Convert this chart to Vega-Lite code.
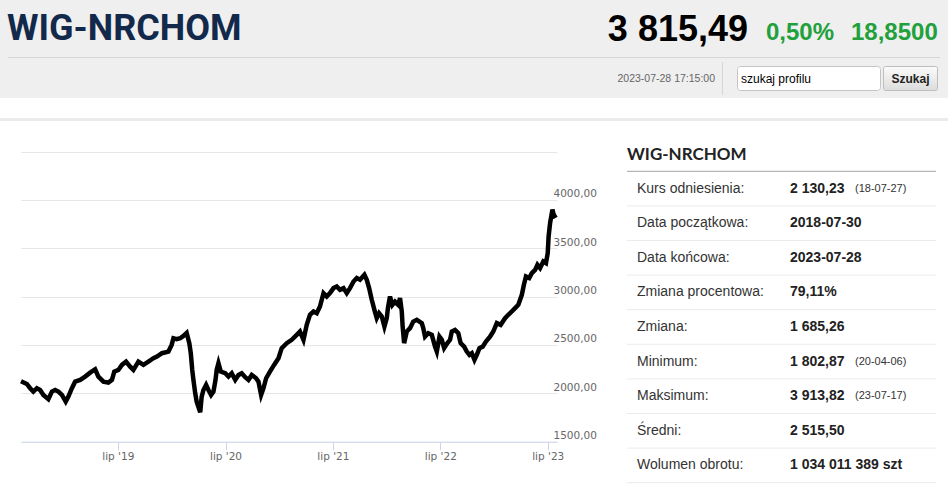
{
  "$schema": "https://vega.github.io/schema/vega-lite/v6.json",
  "description": "WIG-NRCHOM quote page: index chart 2018-2023 with summary table",
  "padding": 0,
  "background": "white",
  "bounds": "flush",
  "spacing": 20,
  "config": {
    "view": {"stroke": null},
    "font": "Liberation Sans"
  },
  "datasets": {
    "header": [
      {"item": "name", "text": "WIG-NRCHOM"},
      {"item": "price", "text": "3 815,49"},
      {"item": "pct", "text": "0,50%"},
      {"item": "change", "text": "18,8500"},
      {"item": "time", "text": "2023-07-28 17:15:00"},
      {"item": "search", "text": "szukaj profilu"},
      {"item": "button", "text": "Szukaj"}
    ],
    "prices": [
      {"date": "2018-08-06", "close": 2125}, {"date": "2018-08-26", "close": 2097},
      {"date": "2018-09-06", "close": 2053}, {"date": "2018-09-17", "close": 2018},
      {"date": "2018-09-29", "close": 2053}, {"date": "2018-10-10", "close": 2035},
      {"date": "2018-10-21", "close": 1983}, {"date": "2018-11-07", "close": 1939},
      {"date": "2018-11-19", "close": 2018}, {"date": "2018-11-30", "close": 2035},
      {"date": "2018-12-11", "close": 2018}, {"date": "2018-12-23", "close": 1983},
      {"date": "2019-01-05", "close": 1914}, {"date": "2019-01-14", "close": 1966},
      {"date": "2019-01-26", "close": 2053}, {"date": "2019-02-06", "close": 2121},
      {"date": "2019-02-23", "close": 2139}, {"date": "2019-03-12", "close": 2173},
      {"date": "2019-03-29", "close": 2214}, {"date": "2019-04-15", "close": 2249},
      {"date": "2019-04-26", "close": 2173}, {"date": "2019-05-13", "close": 2121},
      {"date": "2019-05-30", "close": 2111}, {"date": "2019-06-11", "close": 2139},
      {"date": "2019-06-19", "close": 2225}, {"date": "2019-07-03", "close": 2242},
      {"date": "2019-07-15", "close": 2294}, {"date": "2019-07-29", "close": 2328},
      {"date": "2019-08-12", "close": 2276}, {"date": "2019-08-23", "close": 2242},
      {"date": "2019-09-09", "close": 2328}, {"date": "2019-09-26", "close": 2294},
      {"date": "2019-10-13", "close": 2328}, {"date": "2019-10-30", "close": 2363},
      {"date": "2019-11-11", "close": 2380}, {"date": "2019-11-28", "close": 2415},
      {"date": "2019-12-20", "close": 2432}, {"date": "2019-12-31", "close": 2501},
      {"date": "2020-01-06", "close": 2570}, {"date": "2020-01-17", "close": 2560},
      {"date": "2020-01-29", "close": 2570}, {"date": "2020-02-09", "close": 2594},
      {"date": "2020-02-20", "close": 2625}, {"date": "2020-02-29", "close": 2519},
      {"date": "2020-03-05", "close": 2415}, {"date": "2020-03-10", "close": 2242},
      {"date": "2020-03-14", "close": 2139}, {"date": "2020-03-20", "close": 2001},
      {"date": "2020-03-25", "close": 1914}, {"date": "2020-04-06", "close": 1803},
      {"date": "2020-04-11", "close": 1966}, {"date": "2020-04-17", "close": 2035},
      {"date": "2020-04-26", "close": 2087}, {"date": "2020-05-04", "close": 2035},
      {"date": "2020-05-13", "close": 1983}, {"date": "2020-05-21", "close": 2018},
      {"date": "2020-05-28", "close": 2139}, {"date": "2020-06-01", "close": 2242},
      {"date": "2020-06-07", "close": 2312}, {"date": "2020-06-15", "close": 2225},
      {"date": "2020-06-30", "close": 2208}, {"date": "2020-07-11", "close": 2173},
      {"date": "2020-07-22", "close": 2208}, {"date": "2020-08-03", "close": 2139},
      {"date": "2020-08-14", "close": 2190}, {"date": "2020-08-25", "close": 2208},
      {"date": "2020-09-06", "close": 2167}, {"date": "2020-09-17", "close": 2139},
      {"date": "2020-09-28", "close": 2190}, {"date": "2020-10-13", "close": 2156},
      {"date": "2020-10-21", "close": 2121}, {"date": "2020-10-30", "close": 1983},
      {"date": "2020-11-07", "close": 2053}, {"date": "2020-11-16", "close": 2156},
      {"date": "2020-11-29", "close": 2225}, {"date": "2020-12-13", "close": 2294},
      {"date": "2020-12-28", "close": 2363}, {"date": "2021-01-08", "close": 2467},
      {"date": "2021-01-25", "close": 2519}, {"date": "2021-02-11", "close": 2553},
      {"date": "2021-02-28", "close": 2605}, {"date": "2021-03-11", "close": 2639},
      {"date": "2021-03-23", "close": 2553}, {"date": "2021-04-03", "close": 2708},
      {"date": "2021-04-14", "close": 2812}, {"date": "2021-04-26", "close": 2846},
      {"date": "2021-05-07", "close": 2829}, {"date": "2021-05-18", "close": 2898},
      {"date": "2021-05-30", "close": 3036}, {"date": "2021-06-10", "close": 3001},
      {"date": "2021-06-21", "close": 3036}, {"date": "2021-07-03", "close": 3088},
      {"date": "2021-07-14", "close": 3105}, {"date": "2021-07-25", "close": 3070},
      {"date": "2021-08-06", "close": 3088}, {"date": "2021-08-17", "close": 3036},
      {"date": "2021-08-28", "close": 3088}, {"date": "2021-09-09", "close": 3156},
      {"date": "2021-09-20", "close": 3192}, {"date": "2021-10-01", "close": 3174},
      {"date": "2021-10-16", "close": 3226}, {"date": "2021-10-24", "close": 3174},
      {"date": "2021-11-01", "close": 3088}, {"date": "2021-11-10", "close": 2967},
      {"date": "2021-11-19", "close": 2863}, {"date": "2021-11-27", "close": 2777},
      {"date": "2021-12-05", "close": 2829}, {"date": "2021-12-14", "close": 2794},
      {"date": "2021-12-23", "close": 2690}, {"date": "2021-12-31", "close": 2777},
      {"date": "2022-01-04", "close": 2884}, {"date": "2022-01-11", "close": 3001},
      {"date": "2022-01-19", "close": 2915}, {"date": "2022-01-28", "close": 2949},
      {"date": "2022-02-08", "close": 2915}, {"date": "2022-02-14", "close": 2984},
      {"date": "2022-02-20", "close": 2846}, {"date": "2022-02-23", "close": 2690},
      {"date": "2022-02-28", "close": 2519}, {"date": "2022-03-09", "close": 2639},
      {"date": "2022-03-20", "close": 2674}, {"date": "2022-03-31", "close": 2742},
      {"date": "2022-04-12", "close": 2760}, {"date": "2022-04-29", "close": 2726},
      {"date": "2022-05-04", "close": 2674}, {"date": "2022-05-10", "close": 2587},
      {"date": "2022-05-21", "close": 2622}, {"date": "2022-06-02", "close": 2605},
      {"date": "2022-06-13", "close": 2483}, {"date": "2022-06-19", "close": 2432},
      {"date": "2022-06-28", "close": 2587}, {"date": "2022-07-06", "close": 2553},
      {"date": "2022-07-14", "close": 2467}, {"date": "2022-07-25", "close": 2519},
      {"date": "2022-08-03", "close": 2553}, {"date": "2022-08-09", "close": 2639},
      {"date": "2022-08-20", "close": 2656}, {"date": "2022-08-31", "close": 2622},
      {"date": "2022-09-08", "close": 2519}, {"date": "2022-09-20", "close": 2483},
      {"date": "2022-09-29", "close": 2432}, {"date": "2022-10-08", "close": 2398},
      {"date": "2022-10-16", "close": 2415}, {"date": "2022-10-25", "close": 2346},
      {"date": "2022-11-02", "close": 2398}, {"date": "2022-11-11", "close": 2467},
      {"date": "2022-11-22", "close": 2483}, {"date": "2022-12-03", "close": 2535},
      {"date": "2022-12-17", "close": 2587}, {"date": "2022-12-28", "close": 2639},
      {"date": "2023-01-09", "close": 2726}, {"date": "2023-01-22", "close": 2708},
      {"date": "2023-02-06", "close": 2777}, {"date": "2023-02-17", "close": 2812},
      {"date": "2023-03-01", "close": 2846}, {"date": "2023-03-12", "close": 2881},
      {"date": "2023-03-23", "close": 2915}, {"date": "2023-04-04", "close": 3019},
      {"date": "2023-04-11", "close": 3122}, {"date": "2023-04-18", "close": 3208},
      {"date": "2023-04-29", "close": 3192}, {"date": "2023-05-08", "close": 3243},
      {"date": "2023-05-19", "close": 3277}, {"date": "2023-05-27", "close": 3329},
      {"date": "2023-06-05", "close": 3295}, {"date": "2023-06-16", "close": 3363},
      {"date": "2023-06-25", "close": 3347}, {"date": "2023-07-01", "close": 3450},
      {"date": "2023-07-04", "close": 3622}, {"date": "2023-07-09", "close": 3761},
      {"date": "2023-07-17", "close": 3900}, {"date": "2023-07-21", "close": 3850},
      {"date": "2023-07-28", "close": 3815}
    ],
    "stats": [
      {"row": 1, "label": "Kurs odniesienia:", "amount": "2 130,23", "note": "(18-07-27)"},
      {"row": 2, "label": "Data początkowa:", "amount": "2018-07-30", "note": ""},
      {"row": 3, "label": "Data końcowa:", "amount": "2023-07-28", "note": ""},
      {"row": 4, "label": "Zmiana procentowa:", "amount": "79,11%", "note": ""},
      {"row": 5, "label": "Zmiana:", "amount": "1 685,26", "note": ""},
      {"row": 6, "label": "Minimum:", "amount": "1 802,87", "note": "(20-04-06)"},
      {"row": 7, "label": "Maksimum:", "amount": "3 913,82", "note": "(23-07-17)"},
      {"row": 8, "label": "Średni:", "amount": "2 515,50", "note": ""},
      {"row": 9, "label": "Wolumen obrotu:", "amount": "1 034 011 389 szt", "note": ""}
    ]
  },
  "vconcat": [
    {
      "width": 948,
      "height": 98,
      "view": {"fill": "#efefef", "stroke": null},
      "data": {"name": "header"},
      "layer": [
        {
          "transform": [{"filter": "datum.item == 'name'"}],
          "mark": {"type": "rule", "color": "#d6d6d6", "strokeWidth": 1},
          "encoding": {"x": {"value": 8}, "x2": {"value": 940}, "y": {"value": 57.5}}
        },
        {
          "transform": [{"filter": "datum.item == 'time'"}],
          "mark": {"type": "rule", "color": "#d6d6d6", "strokeWidth": 1},
          "encoding": {"x": {"value": 722.5}, "y": {"value": 62}, "y2": {"value": 95}}
        },
        {
          "transform": [{"filter": "datum.item == 'search'"}],
          "mark": {"type": "rect", "fill": "white", "stroke": "#c4c4c4", "strokeWidth": 1, "cornerRadius": 3},
          "encoding": {"x": {"value": 737.5}, "x2": {"value": 880.5}, "y": {"value": 66.5}, "y2": {"value": 90.5}}
        },
        {
          "transform": [{"filter": "datum.item == 'button'"}],
          "mark": {
            "type": "rect", "stroke": "#bdbdbd", "strokeWidth": 1, "cornerRadius": 2,
            "fill": {"gradient": "linear", "x1": 0, "y1": 0, "x2": 0, "y2": 1,
              "stops": [{"offset": 0, "color": "#fbfbfb"}, {"offset": 1, "color": "#dcdcdc"}]}
          },
          "encoding": {"x": {"value": 883.5}, "x2": {"value": 937.5}, "y": {"value": 66.5}, "y2": {"value": 90.5}}
        },
        {
          "transform": [{"filter": "datum.item == 'name'"}],
          "mark": {"type": "text", "align": "left", "baseline": "alphabetic", "font": "Roboto", "fontSize": 36, "fontWeight": "bold", "color": "#13294b"},
          "encoding": {"x": {"value": 7}, "y": {"value": 40}, "text": {"field": "text"}}
        },
        {
          "transform": [{"filter": "datum.item == 'price'"}],
          "mark": {"type": "text", "align": "right", "baseline": "alphabetic", "fontSize": 36, "fontWeight": "bold", "color": "#000000"},
          "encoding": {"x": {"value": 748}, "y": {"value": 41}, "text": {"field": "text"}}
        },
        {
          "transform": [{"filter": "datum.item == 'pct'"}],
          "mark": {"type": "text", "align": "left", "baseline": "alphabetic", "fontSize": 24, "fontWeight": "bold", "color": "#21a03c"},
          "encoding": {"x": {"value": 766}, "y": {"value": 40}, "text": {"field": "text"}}
        },
        {
          "transform": [{"filter": "datum.item == 'change'"}],
          "mark": {"type": "text", "align": "left", "baseline": "alphabetic", "fontSize": 24, "fontWeight": "bold", "color": "#21a03c"},
          "encoding": {"x": {"value": 851}, "y": {"value": 40}, "text": {"field": "text"}}
        },
        {
          "transform": [{"filter": "datum.item == 'time'"}],
          "mark": {"type": "text", "align": "right", "baseline": "middle", "fontSize": 10.5, "color": "#666666"},
          "encoding": {"x": {"value": 715}, "y": {"value": 78.5}, "text": {"field": "text"}}
        },
        {
          "transform": [{"filter": "datum.item == 'search'"}],
          "mark": {"type": "text", "align": "left", "baseline": "middle", "fontSize": 12, "color": "#000000"},
          "encoding": {"x": {"value": 741}, "y": {"value": 78.5}, "text": {"field": "text"}}
        },
        {
          "transform": [{"filter": "datum.item == 'button'"}],
          "mark": {"type": "text", "align": "center", "baseline": "middle", "fontSize": 12, "fontWeight": "bold", "color": "#222222"},
          "encoding": {"x": {"value": 910.5}, "y": {"value": 78.5}, "text": {"field": "text"}}
        }
      ]
    },
    {
      "width": 948,
      "height": 3,
      "view": {"fill": "#ebebeb", "stroke": null},
      "data": {"values": []},
      "mark": "rect",
      "encoding": {}
    },
    {
      "bounds": "flush",
      "spacing": 20,
      "hconcat": [
        {
          "width": 1,
          "height": 1,
          "data": {"values": []},
          "mark": "rect",
          "encoding": {}
        },
        {
          "width": 536,
          "height": 300.7,
          "data": {"name": "prices"},
          "mark": {"type": "line", "color": "#000000", "strokeWidth": 4.5, "strokeJoin": "miter"},
          "encoding": {
            "x": {
              "field": "date", "type": "temporal",
              "scale": {
                "type": "utc",
                "domain": [{"year": 2018, "month": 8, "date": 6, "utc": true}, {"year": 2023, "month": 8, "date": 1, "hours": 12, "utc": true}]
              },
              "axis": {
                "title": null,
                "values": [
                  {"year": 2019, "month": 7, "date": 1, "utc": true},
                  {"year": 2020, "month": 7, "date": 1, "utc": true},
                  {"year": 2021, "month": 7, "date": 1, "utc": true},
                  {"year": 2022, "month": 7, "date": 1, "utc": true},
                  {"year": 2023, "month": 7, "date": 1, "utc": true}
                ],
                "labelExpr": "\"lip '\" + utcFormat(datum.value, '%y')",
                "grid": false,
                "domainColor": "#ccd6eb",
                "tickColor": "#ccd6eb",
                "tickSize": 8,
                "labelPadding": 2,
                "labelFont": "DejaVu Sans",
                "labelFontSize": 10.5,
                "labelColor": "#666666",
                "labelFlush": false
              }
            },
            "y": {
              "field": "close", "type": "quantitative",
              "scale": {"domain": [1500, 4609], "nice": false, "zero": false},
              "axis": {
                "title": null,
                "orient": "right",
                "values": [1500, 2000, 2500, 3000, 3500, 4000, 4500],
                "labelExpr": "datum.value >= 4500 ? '' : replace(format(datum.value, '.2f'), '.', ',')",
                "grid": true,
                "gridColor": "#e6e6e6",
                "domain": false,
                "ticks": false,
                "labelAlign": "left",
                "labelBaseline": "bottom",
                "labelPadding": -4,
                "labelOffset": -1,
                "labelFont": "DejaVu Sans",
                "labelFontSize": 10.5,
                "labelColor": "#666666"
              }
            }
          }
        },
        {
          "width": 30,
          "height": 1,
          "data": {"values": []},
          "mark": "rect",
          "encoding": {}
        },
        {
          "width": 309,
          "height": 342,
          "data": {"name": "stats"},
          "title": {
            "text": "WIG-NRCHOM", "anchor": "start", "frame": "group",
            "font": "Lato", "fontSize": 17, "fontWeight": "bold", "color": "#222222",
            "baseline": "alphabetic", "offset": -19.5, "dy": 16
          },
          "transform": [{"fold": ["label", "amount", "note"], "as": ["col", "text"]}],
          "layer": [
            {
              "transform": [{"filter": "datum.col == 'label'"}],
              "mark": {"type": "rule", "color": "#ebebeb", "strokeWidth": 1},
              "encoding": {
                "y": {"field": "row", "type": "ordinal", "bandPosition": 1,
                  "scale": {"type": "band", "range": [30.3, 341.7], "paddingInner": 0, "paddingOuter": 0},
                  "axis": null}
              }
            },
            {
              "transform": [{"filter": "datum.col == 'label' && datum.row == 1"}],
              "mark": {"type": "rule", "color": "#a6a6a6", "strokeWidth": 1},
              "encoding": {"y": {"field": "row", "type": "ordinal", "bandPosition": 0}}
            },
            {
              "transform": [{"filter": "datum.col == 'label'"}],
              "mark": {"type": "text", "align": "left", "baseline": "middle", "fontSize": 14, "color": "#333333"},
              "encoding": {
                "x": {"field": "col", "type": "nominal",
                  "scale": {"domain": ["label", "amount", "note"], "range": [10, 228], "padding": 0},
                  "axis": null},
                "y": {"field": "row", "type": "ordinal", "bandPosition": 0.5},
                "text": {"field": "text"}
              }
            },
            {
              "transform": [{"filter": "datum.col == 'amount'"}],
              "mark": {"type": "text", "align": "left", "baseline": "middle", "dx": 44, "fontSize": 14, "fontWeight": "bold", "color": "#222222"},
              "encoding": {
                "x": {"field": "col", "type": "nominal"},
                "y": {"field": "row", "type": "ordinal", "bandPosition": 0.5},
                "text": {"field": "text"}
              }
            },
            {
              "transform": [{"filter": "datum.col == 'note'"}],
              "mark": {"type": "text", "align": "left", "baseline": "middle", "fontSize": 11, "color": "#333333"},
              "encoding": {
                "x": {"field": "col", "type": "nominal"},
                "y": {"field": "row", "type": "ordinal", "bandPosition": 0.5},
                "text": {"field": "text"}
              }
            }
          ]
        }
      ]
    }
  ]
}
